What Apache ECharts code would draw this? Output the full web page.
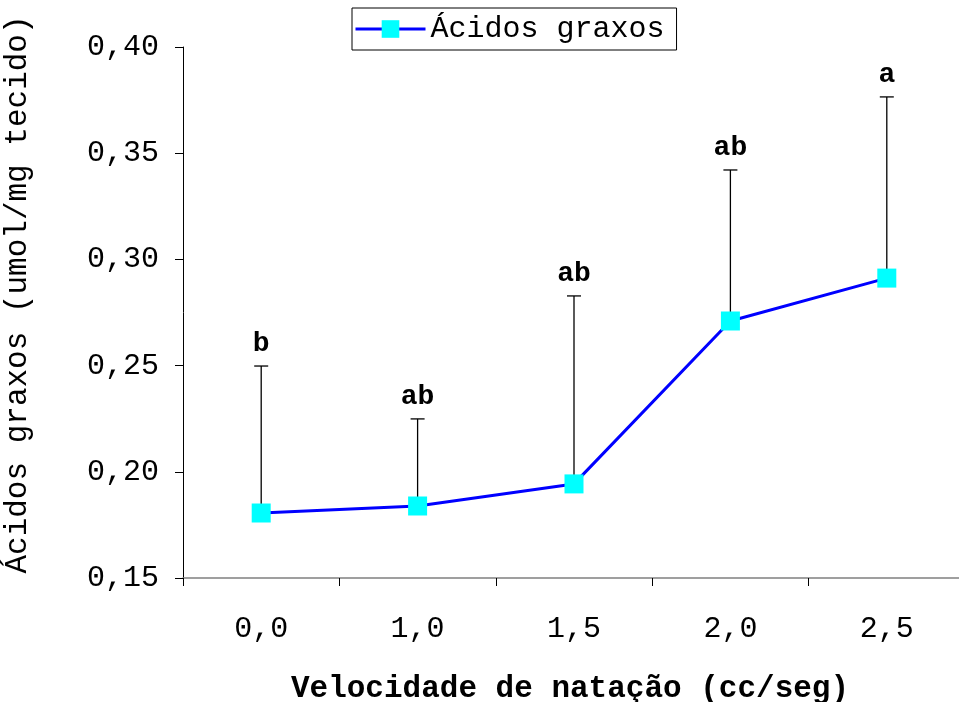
<!DOCTYPE html>
<html>
<head>
<meta charset="utf-8">
<script src="https://cdn.jsdelivr.net/npm/echarts@6/dist/echarts.min.js"></script>
<style>html,body{margin:0;padding:0;background:#fff}#c{width:959px;height:702px}</style>
</head>
<body>
<div id="c"></div>
<script>
const categories = ['0,0', '1,0', '1,5', '2,0', '2,5'];
const means = [0.1806, 0.1839, 0.1943, 0.2710, 0.2912];
const upper = [0.2498, 0.2249, 0.2828, 0.3421, 0.3765];
const letters = ['b', 'ab', 'ab', 'ab', 'a'];
const yTicks = [0.15, 0.20, 0.25, 0.30, 0.35, 0.40];

const FONT = '"Liberation Mono", "Courier New", monospace';
const chart = echarts.init(document.getElementById('c'));
chart.setOption({
  animation: false,
  backgroundColor: '#fff',
  grid: { left: 183, top: 47, width: 782, height: 531, outerBoundsMode: 'none', containLabel: false },
  legend: {
    top: 8, left: 352,
    data: ['Ácidos graxos'],
    itemWidth: 70, itemHeight: 22,
    itemGap: 4,
    lineStyle: { width: 3 },
    borderColor: '#000', borderWidth: 1, padding: [6, 12, 6, 2],
    textStyle: { fontFamily: FONT, fontSize: 30, color: '#000' }
  },
  xAxis: {
    type: 'category', data: categories, boundaryGap: true,
    axisLine: { lineStyle: { color: '#808080', width: 1.5 } },
    axisTick: { show: true, length: 8, lineStyle: { color: '#000' } },
    axisLabel: { margin: 36, fontFamily: FONT, fontSize: 30, color: '#000' },
    name: 'Velocidade de natação (cc/seg)', nameLocation: 'middle', nameGap: 96,
    nameTextStyle: { fontFamily: FONT, fontSize: 31, fontWeight: 'bold', color: '#000', padding: [0, 8, 0, 0] }
  },
  yAxis: {
    type: 'value', min: yTicks[0], max: yTicks[yTicks.length - 1], interval: 0.05,
    splitLine: { show: false },
    axisLine: { show: true, lineStyle: { color: '#000', width: 1 } },
    axisTick: { show: true, length: 8, lineStyle: { color: '#000' } },
    axisLabel: { margin: 24, fontFamily: FONT, fontSize: 30, color: '#000',
      formatter: v => v.toFixed(2).replace('.', ',') },
    name: 'Ácidos graxos (umol/mg tecido)', nameLocation: 'middle', nameGap: 150,
    nameTextStyle: { fontFamily: FONT, fontSize: 31, color: '#000', padding: [0, 0, 0, 36] }
  },
  series: [
    {
      type: 'custom', name: 'err', z: 1,
      data: categories.map((c, i) => [i, means[i], upper[i], letters[i]]),
      renderItem: (params, api) => {
        const x = api.value(0);
        const p0 = api.coord([x, api.value(1)]);
        const p1 = api.coord([x, api.value(2)]);
        const cap = 7;
        return {
          type: 'group',
          children: [
            { type: 'line', shape: { x1: p0[0], y1: p0[1], x2: p1[0], y2: p1[1] }, style: { stroke: '#000', lineWidth: 1.3 } },
            { type: 'line', shape: { x1: p1[0] - cap, y1: p1[1], x2: p1[0] + cap, y2: p1[1] }, style: { stroke: '#000', lineWidth: 1.3 } },
            { type: 'text', x: p1[0], y: p1[1] - 8, style: { text: api.value(3), font: 'bold 28px ' + FONT, fill: '#000', align: 'center', verticalAlign: 'bottom' } }
          ]
        };
      }
    },
    {
      type: 'line', name: 'Ácidos graxos', z: 3,
      data: means,
      symbol: 'rect', symbolSize: 19,
      lineStyle: { color: '#0000FF', width: 3 },
      itemStyle: { color: '#00FFFF', borderWidth: 0 }
    }
  ]
});
</script>
</body>
</html>
